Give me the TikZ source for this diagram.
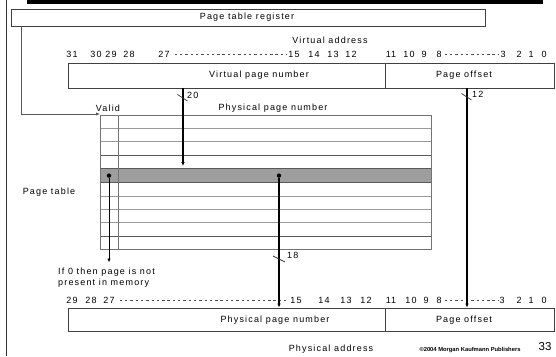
\documentclass[tikz,border=0pt]{standalone}
\usepackage{fontspec}
\setmainfont{Liberation Sans}[LetterSpace=13]
\newfontfamily\plainsans{Liberation Sans}
\usetikzlibrary{arrows.meta}
\definecolor{rowgray}{HTML}{9E9E9E}
\tikzset{
  lbl/.style={inner sep=0pt, font=\fontsize{9}{10.5}\selectfont},
  field/.style={draw=black!75, line width=0.8pt, inner sep=0pt, anchor=north west},
  tick/.style={line width=0.7pt, black!80},
  dots/.style={line width=0.7pt, black!70, dash pattern=on 2.4pt off 2.9pt},
  bus/.style={line width=1.5pt, -{Latex[length=4pt,width=3.6pt]}},
  thinbus/.style={line width=0.9pt, -{Latex[length=4pt,width=3.4pt]}},
  regwire/.style={line width=0.8pt, black!65, -{Latex[length=4pt,width=3.4pt]}},
  grid/.style={line width=0.7pt, black!40},
  gridd/.style={line width=0.7pt, black!65},
  dot/.style={circle, fill=black, inner sep=0pt, minimum size=4.4pt},
}
\begin{document}
\begin{tikzpicture}[x=1pt, y=-1pt]
  \useasboundingbox (0,0) rectangle (556,356);
  \fill[white] (0,0) rectangle (556,356);

  % header bar and left rule
  \fill[black] (27,0) rectangle (543,4.4);
  \draw[line width=0.9pt, black!80] (6,0) -- (6,356);

  % page table register
  \node[field, minimum width=474.5pt, minimum height=17.5pt] (reg) at (10.5,8.5) {};
  \node[lbl] (regtxt) at (247,17) {Page table register};

  % virtual address
  \node[lbl] (vatxt) at (330,40) {Virtual address};
  \foreach \t/\x in {31/72,30/96,29/111,28/129,27/164,15/294,14/314,13/333,12/351,
                     11/391,10/409,9/424,8/439,3/503,2/519,1/531,0/544}
    \node[lbl] (v\t) at (\x,54) {\t};
  \draw[dots] ([xshift=5pt]v27.east) -- ([xshift=-1pt]v15.west);
  \draw[dots] ([xshift=3pt]v8.east) -- ([xshift=-1.5pt]v3.west);

  \node[field, minimum width=317pt, minimum height=24.5pt] (vpn) at (68,63) {};
  \node[field, minimum width=169pt, minimum height=24.5pt] (voff) at (385,63) {};
  \node[lbl] (vpntxt) at (259,75) {Virtual page number};
  \node[lbl] (vofftxt) at (464,75) {Page offset};

  % page table
  \node[lbl] (validtxt) at (108,108) {Valid};
  \node[lbl] (ppnhead) at (273,108) {Physical page number};
  \node[lbl] (pttxt) at (49,192) {Page table};

  \node[anchor=north west, inner sep=0pt, minimum width=331pt, minimum height=13.6pt,
        fill=rowgray] (hit) at (100,168.4) {};
  \foreach \yy in {128.4,141.8,196,209.4,222.8}
    \draw[grid] (100,\yy) -- (431,\yy);
  \foreach \yy in {155.2,168.4,182,236.2}
    \draw[gridd] (100,\yy) -- (431,\yy);
  \draw[black!55, line width=0.7pt] (118,115) -- (118,249);
  \node[field, draw=black!55, line width=0.7pt, minimum width=331pt, minimum height=134pt] (tbl) at (100,115) {};

  % register points at the table
  \draw[regwire] ([xshift=11.2pt]reg.south west) |- ([yshift=1pt]tbl.north west);

  % virtual page number indexes the table
  \coordinate (vpnout) at (183,87.5);
  \coordinate (rowhit) at (183,166);
  \draw[bus] (vpnout) -- (rowhit);
  \draw[tick] (177.5,94.5) -- (187.5,101);
  \node[lbl, anchor=west] (w20) at (187,95) {20};

  % entry fields
  \node[dot] (vdot) at (109,175.6) {};
  \node[dot] (pdot) at (279,175.6) {};
  \coordinate (vend) at (109,262.5);
  \draw[thinbus] (vdot) -- (vend);
  \node[lbl, align=left, anchor=north west] (nomem) at (58,268)
    {If 0 then page is not\\present in memory};

  % physical address
  \foreach \t/\x in {29/72,28/91,27/109,15/296,14/324,13/346,12/366,
                     11/391,10/411,9/426,8/439,3/502,2/519,1/531,0/544}
    \node[lbl] (p\t) at (\x,300) {\t};
  \draw[dots] ([xshift=5pt]p27.east) -- ([xshift=-1pt]p15.west);
  \draw[dots] ([xshift=3pt]p8.east) -- ([xshift=-1.5pt]p3.west);

  \node[field, minimum width=317pt, minimum height=23.5pt] (ppn) at (68,307.5) {};
  \node[field, minimum width=169pt, minimum height=23.5pt] (poff) at (385,307.5) {};
  \node[lbl] (ppntxt) at (275,320) {Physical page number};
  \node[lbl] (pofftxt) at (464,320) {Page offset};

  \draw[bus] (pdot) -- (pdot |- ppn.north);
  \draw[tick] (273,256) -- (285,262);
  \node[lbl, anchor=west] (w18) at (287,255) {18};

  \coordinate (offout) at (467,87.5);
  \draw[bus] (offout) -- (offout |- poff.north);
  \draw[tick] (461.5,93.5) -- (471.5,100);
  \node[lbl, anchor=west] (w12) at (472,94) {12};

  \node[lbl] (patxt) at (331,349) {Physical address};
  \node[inner sep=0pt, font=\plainsans\fontsize{5.8}{6}\selectfont\bfseries] (copy) at (470,350)
    {\textcopyright2004 Morgan Kaufmann Publishers};
  \node[inner sep=0pt, font=\plainsans\fontsize{11.5}{12}\selectfont] (pg) at (545,347) {33};
\end{tikzpicture}
\end{document}
